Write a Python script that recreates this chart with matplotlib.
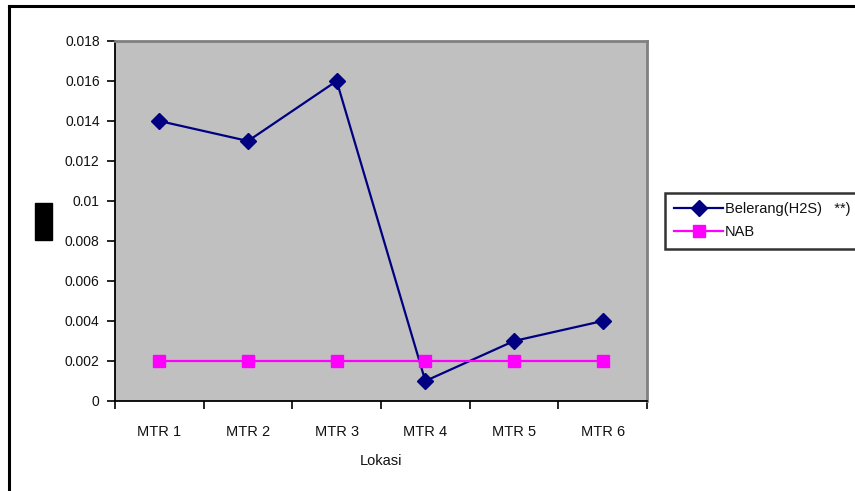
import matplotlib
matplotlib.use("Agg")
import matplotlib.pyplot as plt
from matplotlib.patches import Rectangle
from matplotlib.lines import Line2D
from matplotlib.ticker import FuncFormatter

plt.rcParams['font.family'] = ['Liberation Sans', 'DejaVu Sans']

lokasi = ["MTR 1", "MTR 2", "MTR 3", "MTR 4", "MTR 5", "MTR 6"]
belerang = [0.014, 0.013, 0.016, 0.001, 0.003, 0.004]
nab = [0.002, 0.002, 0.002, 0.002, 0.002, 0.002]
yticks = [0, 0.002, 0.004, 0.006, 0.008, 0.01, 0.012, 0.014, 0.016, 0.018]

W, H = 855, 491
fig = plt.figure(figsize=(W / 100, H / 100), dpi=100)

# outer chart frame (top and left edges visible, rest runs off the canvas)
fig.add_artist(Line2D([9 / W, 9 / W], [0, 1 - 6 / H], transform=fig.transFigure,
                      color="black", lw=2.2))
fig.add_artist(Line2D([9 / W, 1.0], [1 - 6 / H, 1 - 6 / H], transform=fig.transFigure,
                      color="black", lw=2.2))

left, right, top, bottom = 115, 647, 41, 401
ax = fig.add_axes([left / W, 1 - bottom / H, (right - left) / W, (bottom - top) / H])
ax.set_facecolor("#C0C0C0")

x = list(range(len(lokasi)))
ax.plot(x, belerang, color="#000080", lw=1.6, marker="D", ms=8.5,
        label="Belerang(H2S)   **)")
ax.plot(x, nab, color="#FF00FF", lw=1.6, marker="s", ms=8.5, label="NAB")

ax.set_xlim(-0.5, len(lokasi) - 0.5)
ax.set_ylim(0, 0.018)
ax.set_yticks(yticks)
ax.yaxis.set_major_formatter(FuncFormatter(lambda v, p: f"{v:g}"))

ax.set_xticks([i - 0.5 for i in range(len(lokasi) + 1)])
ax.set_xticklabels([])
ax.set_xticks(x, minor=True)
ax.set_xticklabels(lokasi, minor=True)
ax.tick_params(axis="x", which="minor", length=0, pad=17, labelsize=10.5,
               labelcolor="#111111")
ax.tick_params(axis="x", which="major", length=6, width=1.2, direction="out")
ax.tick_params(axis="y", length=6, width=1.2, direction="out", labelsize=10,
               pad=5, labelcolor="#111111")

for side in ("left", "bottom"):
    ax.spines[side].set_color("black")
    ax.spines[side].set_linewidth(1.3)
for side in ("top", "right"):
    ax.spines[side].set_color("#808080")
    ax.spines[side].set_linewidth(2.0)

ax.set_xlabel("Lokasi", fontsize=10.5, labelpad=11, color="#111111")

# y-axis caption rendered as a solid block
fig.add_artist(Rectangle((35 / W, 1 - 240 / H), 17 / W, 37 / H,
                         transform=fig.transFigure, color="black"))

leg = fig.legend(loc="upper left", bbox_to_anchor=(665 / W, 1 - 193 / H),
                 frameon=True, fancybox=False, fontsize=10.5, handlelength=3.3,
                 handletextpad=0.15, borderpad=0.65, labelspacing=0.6,
                 borderaxespad=0)
leg.get_frame().set_edgecolor("black")
leg.get_frame().set_linewidth(1.8)
for t in leg.get_texts():
    t.set_color("#111111")

fig.savefig("out.png", dpi=100)
